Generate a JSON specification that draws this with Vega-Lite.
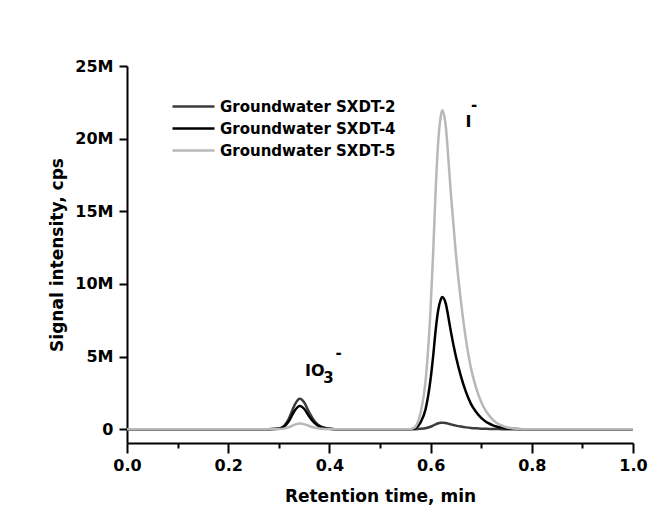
{
  "$schema": "https://vega.github.io/schema/vega-lite/v6.json",
  "width": 506,
  "height": 377,
  "autosize": {"type": "none"},
  "padding": {"left": 127, "top": 66, "right": 35, "bottom": 82},
  "background": "white",
  "config": {
    "view": {"stroke": null},
    "font": "DejaVu Sans",
    "axis": {"domainColor": "black", "tickColor": "black", "domainWidth": 2, "tickWidth": 2, "labelFont": "DejaVu Sans", "labelFontWeight": "bold", "labelFontSize": 16, "labelColor": "black", "titleFont": "DejaVu Sans", "titleFontWeight": "bold", "titleFontSize": 17, "titleColor": "black", "grid": false}
  },
  "datasets": {
    "chrom": [
      {"t": 0, "Groundwater SXDT-2": 0, "Groundwater SXDT-4": 0, "Groundwater SXDT-5": 0},
      {"t": 0.1, "Groundwater SXDT-2": 0, "Groundwater SXDT-4": 0, "Groundwater SXDT-5": 0},
      {"t": 0.2, "Groundwater SXDT-2": 0, "Groundwater SXDT-4": 0, "Groundwater SXDT-5": 0},
      {"t": 0.28, "Groundwater SXDT-2": 0, "Groundwater SXDT-4": 0, "Groundwater SXDT-5": 0},
      {"t": 0.30, "Groundwater SXDT-2": 0.042, "Groundwater SXDT-4": 0.032, "Groundwater SXDT-5": 0.008},
      {"t": 0.31, "Groundwater SXDT-2": 0.21, "Groundwater SXDT-4": 0.16, "Groundwater SXDT-5": 0.04},
      {"t": 0.32, "Groundwater SXDT-2": 0.735, "Groundwater SXDT-4": 0.56, "Groundwater SXDT-5": 0.14},
      {"t": 0.33, "Groundwater SXDT-2": 1.575, "Groundwater SXDT-4": 1.2, "Groundwater SXDT-5": 0.3},
      {"t": 0.34, "Groundwater SXDT-2": 2.079, "Groundwater SXDT-4": 1.584, "Groundwater SXDT-5": 0.396},
      {"t": 0.342, "Groundwater SXDT-2": 2.1, "Groundwater SXDT-4": 1.6, "Groundwater SXDT-5": 0.4},
      {"t": 0.35, "Groundwater SXDT-2": 1.848, "Groundwater SXDT-4": 1.408, "Groundwater SXDT-5": 0.352},
      {"t": 0.36, "Groundwater SXDT-2": 1.155, "Groundwater SXDT-4": 0.88, "Groundwater SXDT-5": 0.22},
      {"t": 0.37, "Groundwater SXDT-2": 0.588, "Groundwater SXDT-4": 0.448, "Groundwater SXDT-5": 0.112},
      {"t": 0.38, "Groundwater SXDT-2": 0.252, "Groundwater SXDT-4": 0.192, "Groundwater SXDT-5": 0.048},
      {"t": 0.39, "Groundwater SXDT-2": 0.105, "Groundwater SXDT-4": 0.08, "Groundwater SXDT-5": 0.02},
      {"t": 0.40, "Groundwater SXDT-2": 0.032, "Groundwater SXDT-4": 0.024, "Groundwater SXDT-5": 0.006},
      {"t": 0.41, "Groundwater SXDT-2": 0, "Groundwater SXDT-4": 0, "Groundwater SXDT-5": 0},
      {"t": 0.5, "Groundwater SXDT-2": 0, "Groundwater SXDT-4": 0, "Groundwater SXDT-5": 0},
      {"t": 0.56, "Groundwater SXDT-2": 0, "Groundwater SXDT-4": 0, "Groundwater SXDT-5": 0},
      {"t": 0.565, "Groundwater SXDT-2": 0.001, "Groundwater SXDT-4": 0.027, "Groundwater SXDT-5": 0.066},
      {"t": 0.57, "Groundwater SXDT-2": 0.004, "Groundwater SXDT-4": 0.073, "Groundwater SXDT-5": 0.176},
      {"t": 0.58, "Groundwater SXDT-2": 0.023, "Groundwater SXDT-4": 0.455, "Groundwater SXDT-5": 1.10},
      {"t": 0.59, "Groundwater SXDT-2": 0.068, "Groundwater SXDT-4": 1.365, "Groundwater SXDT-5": 3.29},
      {"t": 0.60, "Groundwater SXDT-2": 0.171, "Groundwater SXDT-4": 3.458, "Groundwater SXDT-5": 8.34},
      {"t": 0.605, "Groundwater SXDT-2": 0.248, "Groundwater SXDT-4": 5.005, "Groundwater SXDT-5": 12.07},
      {"t": 0.61, "Groundwater SXDT-2": 0.338, "Groundwater SXDT-4": 6.825, "Groundwater SXDT-5": 16.46},
      {"t": 0.615, "Groundwater SXDT-2": 0.405, "Groundwater SXDT-4": 8.19, "Groundwater SXDT-5": 19.76},
      {"t": 0.62, "Groundwater SXDT-2": 0.441, "Groundwater SXDT-4": 8.918, "Groundwater SXDT-5": 21.51},
      {"t": 0.623, "Groundwater SXDT-2": 0.45, "Groundwater SXDT-4": 9.1, "Groundwater SXDT-5": 21.95},
      {"t": 0.63, "Groundwater SXDT-2": 0.428, "Groundwater SXDT-4": 8.645, "Groundwater SXDT-5": 20.85},
      {"t": 0.635, "Groundwater SXDT-2": 0.383, "Groundwater SXDT-4": 7.735, "Groundwater SXDT-5": 18.66},
      {"t": 0.64, "Groundwater SXDT-2": 0.333, "Groundwater SXDT-4": 6.734, "Groundwater SXDT-5": 16.24},
      {"t": 0.65, "Groundwater SXDT-2": 0.248, "Groundwater SXDT-4": 5.005, "Groundwater SXDT-5": 12.07},
      {"t": 0.66, "Groundwater SXDT-2": 0.18, "Groundwater SXDT-4": 3.64, "Groundwater SXDT-5": 8.78},
      {"t": 0.67, "Groundwater SXDT-2": 0.126, "Groundwater SXDT-4": 2.548, "Groundwater SXDT-5": 6.146},
      {"t": 0.68, "Groundwater SXDT-2": 0.086, "Groundwater SXDT-4": 1.729, "Groundwater SXDT-5": 4.17},
      {"t": 0.69, "Groundwater SXDT-2": 0.059, "Groundwater SXDT-4": 1.183, "Groundwater SXDT-5": 2.85},
      {"t": 0.70, "Groundwater SXDT-2": 0.038, "Groundwater SXDT-4": 0.774, "Groundwater SXDT-5": 1.866},
      {"t": 0.71, "Groundwater SXDT-2": 0.025, "Groundwater SXDT-4": 0.5, "Groundwater SXDT-5": 1.207},
      {"t": 0.72, "Groundwater SXDT-2": 0.016, "Groundwater SXDT-4": 0.319, "Groundwater SXDT-5": 0.768},
      {"t": 0.73, "Groundwater SXDT-2": 0.009, "Groundwater SXDT-4": 0.182, "Groundwater SXDT-5": 0.439},
      {"t": 0.74, "Groundwater SXDT-2": 0.005, "Groundwater SXDT-4": 0.109, "Groundwater SXDT-5": 0.263},
      {"t": 0.75, "Groundwater SXDT-2": 0.003, "Groundwater SXDT-4": 0.055, "Groundwater SXDT-5": 0.132},
      {"t": 0.76, "Groundwater SXDT-2": 0.001, "Groundwater SXDT-4": 0.027, "Groundwater SXDT-5": 0.066},
      {"t": 0.78, "Groundwater SXDT-2": 0, "Groundwater SXDT-4": 0, "Groundwater SXDT-5": 0},
      {"t": 0.85, "Groundwater SXDT-2": 0, "Groundwater SXDT-4": 0, "Groundwater SXDT-5": 0},
      {"t": 1.0, "Groundwater SXDT-2": 0, "Groundwater SXDT-4": 0, "Groundwater SXDT-5": 0}
    ],
    "mainLabels": [
      {"t": 0.352, "v": 3.68, "label": "IO"},
      {"t": 0.669, "v": 20.78, "label": "I"}
    ],
    "scriptLabels": [
      {"t": 0.388, "v": 3.19, "label": "3"},
      {"t": 0.412, "v": 4.92, "label": "-"},
      {"t": 0.680, "v": 22.0, "label": "-"}
    ]
  },
  "layer": [
    {
      "data": {"name": "chrom"},
      "transform": [{"fold": ["Groundwater SXDT-2", "Groundwater SXDT-4", "Groundwater SXDT-5"], "as": ["series", "v"]}],
      "mark": {"type": "line", "strokeWidth": 2.5, "interpolate": "monotone", "clip": true},
      "encoding": {
        "x": {"field": "t", "type": "quantitative", "scale": {"domain": [0, 1], "nice": false},
          "axis": {"title": "Retention time, min", "values": [0, 0.1, 0.2, 0.3, 0.4, 0.5, 0.6, 0.7, 0.8, 0.9, 1.0],
            "labelExpr": "round(datum.value*10) % 2 == 0 ? format(datum.value, '.1f') : ''",
            "tickSize": {"condition": {"test": "round(datum.value*10) % 2 == 0", "value": 10}, "value": 5},
            "labelPadding": 4, "titlePadding": 15, "labelFlush": false}},
        "y": {"field": "v", "type": "quantitative", "scale": {"domain": [-0.95, 25], "nice": false, "zero": false},
          "axis": {"title": "Signal intensity, cps", "values": [0, 5, 10, 15, 20, 25],
            "labelExpr": "datum.value == 0 ? '0' : datum.value + 'M'", "tickSize": 8, "labelPadding": 6, "titlePadding": 8}},
        "color": {"field": "series", "type": "nominal",
          "scale": {"domain": ["Groundwater SXDT-2", "Groundwater SXDT-4", "Groundwater SXDT-5"], "range": ["#3c3c3c", "#000000", "#b8b8b8"]},
          "legend": {"title": null, "orient": "none", "legendX": 44, "legendY": 33, "symbolType": "stroke", "symbolSize": 1764, "symbolStrokeWidth": 2.5,
            "clipHeight": 15, "labelFont": "DejaVu Sans", "labelFontWeight": "bold", "labelFontSize": 15, "labelColor": "black", "labelLimit": 400, "rowPadding": 6, "labelOffset": 4}}
      }
    },
    {
      "data": {"name": "mainLabels"},
      "mark": {"type": "text", "align": "left", "baseline": "alphabetic", "fontSize": 16, "fontWeight": "bold", "font": "DejaVu Sans", "color": "black"},
      "encoding": {"x": {"field": "t", "type": "quantitative"}, "y": {"field": "v", "type": "quantitative"}, "text": {"field": "label"}}
    },
    {
      "data": {"name": "scriptLabels"},
      "mark": {"type": "text", "align": "left", "baseline": "alphabetic", "fontSize": 15, "fontWeight": "bold", "font": "DejaVu Sans", "color": "black"},
      "encoding": {"x": {"field": "t", "type": "quantitative"}, "y": {"field": "v", "type": "quantitative"}, "text": {"field": "label"}}
    }
  ]
}
